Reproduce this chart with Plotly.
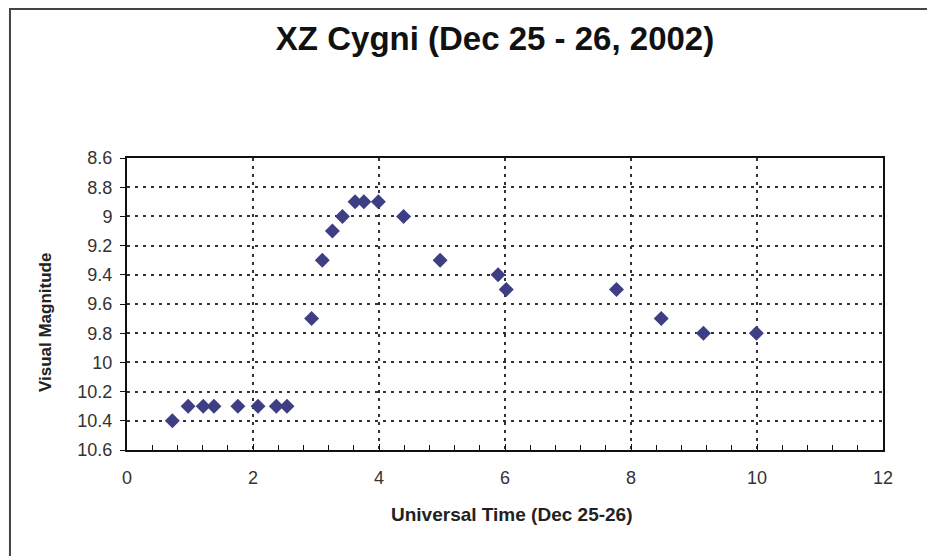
import plotly.graph_objects as go

ut_hours = [0.72, 0.97, 1.21, 1.38, 1.76, 2.08, 2.37, 2.54, 2.93, 3.10, 3.26, 3.42,
            3.62, 3.76, 3.99, 4.39, 4.97, 5.89, 6.02, 7.77, 8.48, 9.15, 9.99]
magnitude = [10.4, 10.3, 10.3, 10.3, 10.3, 10.3, 10.3, 10.3, 9.7, 9.3, 9.1, 9.0,
             8.9, 8.9, 8.9, 9.0, 9.3, 9.4, 9.5, 9.5, 9.7, 9.8, 9.8]
y_ticks = [8.6, 8.8, 9.0, 9.2, 9.4, 9.6, 9.8, 10.0, 10.2, 10.4, 10.6]
y_labels = ["8.6", "8.8", "9", "9.2", "9.4", "9.6", "9.8", "10", "10.2", "10.4", "10.6"]
x_ticks = [0, 2, 4, 6, 8, 10, 12]

fig = go.Figure()
fig.add_trace(go.Scatter(
    x=ut_hours, y=magnitude, mode="markers",
    marker=dict(symbol="diamond", size=11.5, color="#3e3e84", line=dict(width=0)),
    showlegend=False,
))

font_family = "Liberation Sans, Arial, sans-serif"
narrow_family = "Liberation Sans Narrow, Liberation Sans, Arial, sans-serif"
fig.update_layout(
    width=927, height=548,
    margin=dict(l=119, r=52, t=150, b=106),
    paper_bgcolor="white", plot_bgcolor="white",
    title=dict(text="<b>XZ Cygni (Dec 25 - 26, 2002)</b>", x=0.5254, xanchor="center",
               y=0.945, yanchor="middle",
               font=dict(family=font_family, size=33, color="#111")),
    xaxis=dict(
        range=[0, 12], tickvals=x_ticks, ticktext=[str(v) for v in x_ticks],
        showgrid=True, gridcolor="#333", griddash="3px,5px", gridwidth=2,
        showline=True, linecolor="#111", linewidth=2, mirror=True,
        ticks="inside", ticklen=6, tickcolor="#111",
        minor=dict(dtick=0.4, ticks="inside", ticklen=5, tickcolor="#111", showgrid=False),
        tickfont=dict(family=font_family, size=18, color="#333"),
        ticklabelstandoff=10,
        zeroline=False,
    ),
    yaxis=dict(
        range=[10.6, 8.6], tickvals=y_ticks, ticktext=y_labels,
        showgrid=True, gridcolor="#333", griddash="3px,5px", gridwidth=2,
        showline=True, linecolor="#111", linewidth=2, mirror=True,
        ticks="outside", ticklen=5, tickcolor="#111",
        tickfont=dict(family=font_family, size=18, color="#333"),
        ticklabelstandoff=4,
        zeroline=False,
    ),
)

fig.add_annotation(text="<b>Universal Time (Dec 25-26)</b>", xref="paper", yref="paper",
                   x=0.509, y=-0.2226, xanchor="center", yanchor="middle", showarrow=False,
                   font=dict(family=font_family, size=19, color="#222"))
fig.add_annotation(text="<b>Visual Magnitude</b>", xref="paper", yref="paper",
                   x=-0.1085, y=0.438, xanchor="center", yanchor="middle", showarrow=False,
                   textangle=-90,
                   font=dict(family=narrow_family, size=17, color="#222"))

fig.add_shape(type="rect", xref="paper", yref="paper",
              x0=-0.1548, x1=1.0622, y0=-0.404, y1=1.510,
              line=dict(color="#444", width=2), fillcolor="rgba(0,0,0,0)", layer="below")

fig.write_html("out.html")
